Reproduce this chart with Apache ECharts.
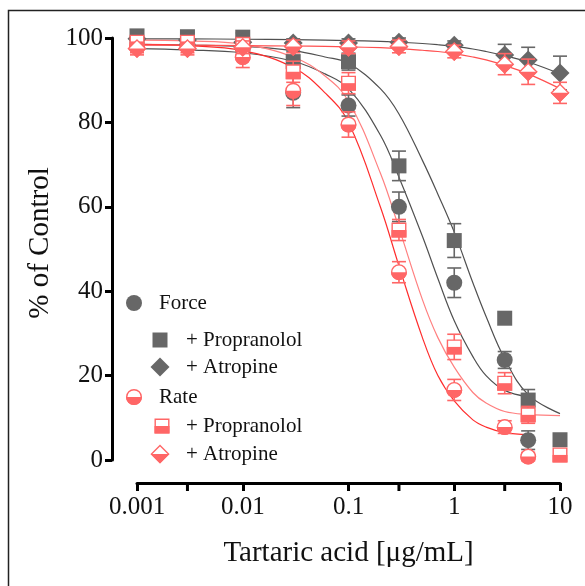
<!DOCTYPE html>
<html>
<head>
<meta charset="utf-8">
<script src="https://cdn.jsdelivr.net/npm/echarts@6/dist/echarts.min.js"></script>
<style>
  html, body { margin: 0; padding: 0; background: #fff; }
  #c1 { width: 585px; height: 586px; }
</style>
</head>
<body>
<div id="c1"></div>
<script>
// concentrations [µg/mL]
const conc = [0.001, 0.003, 0.01, 0.03, 0.1, 0.3, 1, 3, 5, 10]
const forceMean = [98, 98.5, 97.5, 87, 84, 60, 42, 23.7, 4.7, null]
const forceErr = [1, 1, 1.5, 3.5, 2.5, 3.5, 3.5, 2, 2.2, null]
const forcePropMean = [100.5, 100.3, 100.2, 94.4, 94.4, 69.7, 52, 33.6, 14.2, 4.8]
const forcePropErr = [1, 1, 1, 2.5, 2, 3.5, 4, 0, 2.5, 1]
const forceAtrMean = [99.8, 99.5, 99, 98.8, 98.8, 99, 98.3, 96, 94.8, 91.7]
const forceAtrErr = [1, 1, 1, 1, 1, 1, 1, 2.5, 3, 4]
const rateMean = [98, 98, 95.5, 87.5, 79.5, 44.5, 16.6, 7.8, 0.8, null]
const rateErr = [1.5, 1.5, 2.5, 3.5, 3, 2.5, 2.5, 1.5, 1, null]
const ratePropMean = [99, 99, 98.5, 92, 89.3, 54.5, 26.8, 18.2, 10.7, 1.2]
const ratePropErr = [1, 1, 1, 2.5, 2.5, 2.5, 3, 2.5, 2, 1]
const rateAtrMean = [97.5, 97.5, 97.8, 98, 97.8, 98, 96.8, 93.8, 92, 87]
const rateAtrErr = [1.5, 1.5, 1.5, 1.5, 1.5, 1.5, 1.5, 2.5, 3, 2.5]

// fitted curves
const fitX = [0.001, 0.003, 0.01, 0.03, 0.06, 0.1, 0.2, 0.3, 0.5, 0.7, 1, 1.5, 2, 3, 5, 10]
const forceFit = [97.5, 97.2, 96.5, 94.5, 91.5, 88, 77, 67, 53, 43, 33, 24.5, 20, 16.5, 15, null]
const forcePropFit = [98.5, 98.3, 98, 97, 95.5, 94, 88, 82, 71, 63, 54, 42, 34, 24, 15.5, 11]
const forceAtrFit = [99.8, 99.8, 99.7, 99.6, 99.5, 99.4, 99.2, 99, 98.7, 98.4, 98, 97.4, 96.8, 95.8, 94.3, 91.5]
const rateFit = [98.5, 98.2, 97, 93, 87, 80, 60, 46, 29, 20, 14, 9.5, 7.8, 6.5, 6, null]
const ratePropFit = [99.5, 99.3, 98.5, 95.5, 91, 85, 68, 55, 38, 29, 22, 16, 13.5, 11.5, 10.8, 10.5]
const rateAtrFit = [98.3, 98.3, 98.2, 98.1, 98, 97.9, 97.7, 97.5, 97.1, 96.8, 96.3, 95.5, 94.8, 93.5, 91.5, 88]

const xTicksMinor = [0.003, 0.3, 3]

const GRAY = '#676767'
const RED = '#ff6666'
const FONT = '"Liberation Serif", "Times New Roman", serif'

// symbol shapes, centred on cx, cy
function shapeEls(shape, cx, cy, color, half) {
  const els = []
  if (shape === 'circle') {
    const r = 8
    if (half) {
      els.push({ type: 'circle', shape: { cx, cy, r: r - 0.7 }, style: { fill: '#fff', stroke: color, lineWidth: 1.4 } })
      els.push({ type: 'sector', shape: { cx, cy, r0: 0, r, startAngle: 0, endAngle: Math.PI }, style: { fill: color } })
    } else {
      els.push({ type: 'circle', shape: { cx, cy, r }, style: { fill: color } })
    }
  } else if (shape === 'square') {
    const h = 7.5
    if (half) {
      els.push({ type: 'rect', shape: { x: cx - h + 0.7, y: cy - h + 0.7, width: 2 * h - 1.4, height: 2 * h - 1.4 }, style: { fill: '#fff', stroke: color, lineWidth: 1.4 } })
      els.push({ type: 'rect', shape: { x: cx - h, y: cy, width: 2 * h, height: h }, style: { fill: color } })
    } else {
      els.push({ type: 'rect', shape: { x: cx - h, y: cy - h, width: 2 * h, height: 2 * h }, style: { fill: color } })
    }
  } else {
    const d = 9.5
    if (half) {
      els.push({ type: 'polygon', shape: { points: [[cx, cy - d + 1], [cx + d - 1, cy], [cx, cy + d - 1], [cx - d + 1, cy]] }, style: { fill: '#fff', stroke: color, lineWidth: 1.4 } })
      els.push({ type: 'polygon', shape: { points: [[cx - d, cy], [cx + d, cy], [cx, cy + d]] }, style: { fill: color } })
    } else {
      els.push({ type: 'polygon', shape: { points: [[cx, cy - d], [cx + d, cy], [cx, cy + d], [cx - d, cy]] }, style: { fill: color } })
    }
  }
  return els
}

function pointSeries(name, means, errs, shape, color, half, z) {
  const data = []
  conc.forEach((x, i) => {
    if (means[i] != null) data.push([x, means[i], errs[i]])
  })
  return {
    name,
    type: 'custom',
    z,
    silent: true,
    data,
    renderItem: (params, api) => {
      const x = api.value(0), y = api.value(1), e = api.value(2)
      const p = api.coord([x, y])
      const children = []
      if (e > 0) {
        const t = api.coord([x, y + e])
        const b = api.coord([x, y - e])
        const st = { stroke: color, lineWidth: 1.6 }
        children.push({ type: 'line', shape: { x1: p[0], y1: t[1], x2: p[0], y2: b[1] }, style: st })
        children.push({ type: 'line', shape: { x1: p[0] - 7, y1: t[1], x2: p[0] + 7, y2: t[1] }, style: st })
        children.push({ type: 'line', shape: { x1: p[0] - 7, y1: b[1], x2: p[0] + 7, y2: b[1] }, style: st })
      }
      return { type: 'group', children: children.concat(shapeEls(shape, p[0], p[1], color, half)) }
    }
  }
}

function fitSeries(name, vals, color, width) {
  const data = []
  fitX.forEach((x, i) => {
    if (vals[i] != null) data.push([x, vals[i]])
  })
  return {
    name,
    type: 'line',
    data,
    smooth: 0.4,
    showSymbol: false,
    silent: true,
    z: 1,
    lineStyle: { color, width }
  }
}

// minor ticks at 0.003, 0.3 and 3 (the x axis sits 23px below the plot)
const minorTickSeries = {
  type: 'custom',
  silent: true,
  data: xTicksMinor.map(v => [v, 0]),
  renderItem: (params, api) => {
    const p = api.coord([api.value(0), api.value(1)])
    return { type: 'line', shape: { x1: p[0], y1: p[1] + 23, x2: p[0], y2: p[1] + 31 }, style: { stroke: '#000', lineWidth: 3 } }
  }
}

// legend drawn as graphic elements
const legendRows = [
  { text: 'Force', shape: 'circle', color: GRAY, half: false, sx: 134, tx: 159, y: 303 },
  { text: '+ Propranolol', shape: 'square', color: GRAY, half: false, sx: 160, tx: 186, y: 340 },
  { text: '+ Atropine', shape: 'diamond', color: GRAY, half: false, sx: 160, tx: 186, y: 367 },
  { text: 'Rate', shape: 'circle', color: RED, half: true, sx: 134, tx: 159, y: 397 },
  { text: '+ Propranolol', shape: 'square', color: RED, half: true, sx: 162, tx: 186, y: 426 },
  { text: '+ Atropine', shape: 'diamond', color: RED, half: true, sx: 160, tx: 186, y: 454 }
]
const graphics = [
  { type: 'rect', shape: { x: 8.5, y: 10.5, width: 700, height: 700 }, style: { fill: 'none', stroke: '#222', lineWidth: 1.5 } }
]
legendRows.forEach(r => {
  shapeEls(r.shape, r.sx, r.y, r.color, r.half).forEach(el => graphics.push(el))
  graphics.push({ type: 'text', x: r.tx, y: r.y, style: { text: r.text, font: '21px ' + FONT, fill: '#111', verticalAlign: 'middle' } })
})

const myChart = echarts.init(document.getElementById('c1'))
const option = {
  animation: false,
  grid: { left: 137, right: 25, top: 38, bottom: 126 },
  xAxis: {
    type: 'log',
    logBase: 10,
    min: 0.001,
    max: 10,
    offset: 23,
    name: 'Tartaric acid [μg/mL]',
    nameLocation: 'middle',
    nameGap: 56,
    nameTextStyle: { fontFamily: FONT, fontSize: 29, color: '#111' },
    axisLine: { show: true, onZero: false, lineStyle: { color: '#000', width: 3 } },
    axisTick: { show: true, length: 8, lineStyle: { color: '#000', width: 3 } },
    axisLabel: {
      fontFamily: FONT, fontSize: 25, color: '#111', margin: 12,
      formatter: v => String(parseFloat(Number(v).toPrecision(6)))
    },
    splitLine: { show: false },
    minorTick: { show: false }
  },
  yAxis: {
    type: 'value',
    min: 0,
    max: 100,
    interval: 20,
    offset: 25,
    name: '% of Control',
    nameLocation: 'middle',
    nameGap: 52,
    nameTextStyle: { fontFamily: FONT, fontSize: 29, color: '#111', padding: [0, 0, 0, 12] },
    axisLine: { show: true, onZero: false, lineStyle: { color: '#000', width: 3 } },
    axisTick: { show: true, length: 7, lineStyle: { color: '#000', width: 3 } },
    axisLabel: { fontFamily: FONT, fontSize: 25, color: '#111', margin: 9 },
    splitLine: { show: false }
  },
  graphic: graphics,
  series: [
    minorTickSeries,
    fitSeries('Force fit', forceFit, '#505050', 1.2),
    fitSeries('Force + Propranolol fit', forcePropFit, '#505050', 1.2),
    fitSeries('Force + Atropine fit', forceAtrFit, '#505050', 1.2),
    fitSeries('Rate fit', rateFit, '#ff2d2d', 1.2),
    fitSeries('Rate + Propranolol fit', ratePropFit, '#ff8080', 1.2),
    fitSeries('Rate + Atropine fit', rateAtrFit, '#ff5050', 1.2),
    pointSeries('Force', forceMean, forceErr, 'circle', GRAY, false, 2),
    pointSeries('+ Propranolol', forcePropMean, forcePropErr, 'square', GRAY, false, 3),
    pointSeries('+ Atropine', forceAtrMean, forceAtrErr, 'diamond', GRAY, false, 4),
    pointSeries('Rate', rateMean, rateErr, 'circle', RED, true, 5),
    pointSeries('Rate + Propranolol', ratePropMean, ratePropErr, 'square', RED, true, 6),
    pointSeries('Rate + Atropine', rateAtrMean, rateAtrErr, 'diamond', RED, true, 7)
  ]
}
myChart.setOption(option)
</script>
</body>
</html>
